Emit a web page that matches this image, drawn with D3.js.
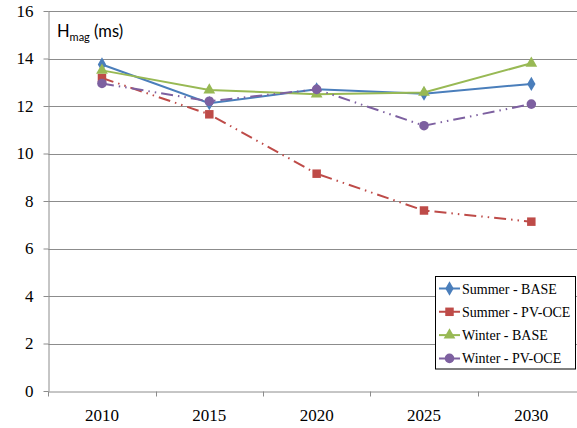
<!DOCTYPE html>
<html><head><meta charset="utf-8">
<script src="https://cdn.jsdelivr.net/npm/d3@7"></script>
<style>body{margin:0;background:#fff;overflow:hidden}</style>
</head><body>
<svg id="c" width="577" height="428"></svg>
<script>
const years = ["2010","2015","2020","2025","2030"];
const yTicks = [0,2,4,6,8,10,12,14,16];
const summerBase = [13.75,12.12,12.7,12.52,12.93];
const summerPV = [13.18,11.65,9.15,7.6,7.13];
const winterBase = [13.5,12.67,12.5,12.57,13.8];
const winterPV = [12.95,12.2,12.7,11.17,12.08];
const seriesNames = ["Summer - BASE","Summer - PV-OCE","Winter - BASE","Winter - PV-OCE"];

const series = [
  {name:seriesNames[0], values:summerBase, color:"#4a7ebb", dash:null, marker:d3.symbolDiamond, size:60},
  {name:seriesNames[1], values:summerPV, color:"#be4b48", dash:"12,5,1.5,5,1.5,5", marker:d3.symbolSquare, size:72},
  {name:seriesNames[2], values:winterBase, color:"#98b954", dash:null, marker:d3.symbolTriangle, size:60},
  {name:seriesNames[3], values:winterPV, color:"#7d60a0", dash:"12,5,1.5,5,1.5,5", marker:d3.symbolCircle, size:72}
];

const svg = d3.select("#c");
const L = 48.3, R = 585, T = 11, B = 391;
const x = d3.scaleBand().domain(years).range([L,R]);
const y = d3.scaleLinear().domain([0,16]).range([B,T]);
const SERIF = "Liberation Serif";

// gridlines
svg.append("g").selectAll("line").data(yTicks.filter(d=>d>0)).join("line")
  .attr("x1",L).attr("x2",R)
  .attr("y1",d=>Math.round(y(d))+0.5).attr("y2",d=>Math.round(y(d))+0.5)
  .attr("stroke","#8c8c8c").attr("stroke-width",1);

// y axis
const ya = svg.append("g").attr("transform",`translate(${Math.round(L)+0.5},0)`)
  .call(d3.axisLeft(y).tickValues(yTicks).tickSize(5).tickPadding(10).tickSizeOuter(0));
ya.attr("font-family",SERIF).attr("font-size",17);
ya.select(".domain").attr("stroke","#8c8c8c");
ya.selectAll(".tick line").attr("stroke","#8c8c8c");
ya.selectAll(".tick text").attr("font-family",SERIF).attr("font-size",17).attr("fill","#000");

// x axis
const xa = svg.append("g").attr("transform",`translate(0,${Math.round(B)+0.5})`)
  .call(d3.axisBottom(x).tickSize(0).tickPadding(17));
xa.attr("font-family",SERIF).attr("font-size",17);
xa.select(".domain").attr("stroke","#8c8c8c");
xa.selectAll(".tick text").attr("font-family",SERIF).attr("font-size",17).attr("fill","#000");
xa.selectAll(".edge").data(years.map(d=>x(d)).concat([x(years[4])+x.bandwidth()])).join("line")
  .attr("x1",d=>Math.round(d)+0.5).attr("x2",d=>Math.round(d)+0.5).attr("y1",0).attr("y2",5)
  .attr("stroke","#8c8c8c");

// y label
const lab = svg.append("text").attr("x",57).attr("y",37)
  .attr("font-family","Lato").attr("font-size",16.5).attr("fill","#000");
lab.append("tspan").text("H");
lab.append("tspan").attr("font-size",11).attr("dy",4).text("mag");
lab.append("tspan").attr("dy",-4).text(" (ms)");

const cx = d => x(d) + x.bandwidth()/2;
const line = d3.line().x((v,i)=>cx(years[i])).y(v=>y(v));

series.forEach(s=>{
  svg.append("path").attr("d",line(s.values)).attr("fill","none")
    .attr("stroke",s.color).attr("stroke-width",2).attr("stroke-dasharray",s.dash);
  svg.append("g").selectAll("path").data(s.values).join("path")
    .attr("transform",(v,i)=>`translate(${cx(years[i])},${y(v)})`)
    .attr("d",d3.symbol().type(s.marker).size(s.size)).attr("fill",s.color);
});

// legend
const lg = svg.append("g");
lg.append("rect").attr("x",435.5).attr("y",276.5).attr("width",140).attr("height",92.5)
  .attr("fill","#fff").attr("stroke","#000").attr("stroke-width",1);
series.forEach((s,i)=>{
  const cy = 288.5 + i*23.3;
  lg.append("line").attr("x1",439).attr("x2",460).attr("y1",cy).attr("y2",cy)
    .attr("stroke",s.color).attr("stroke-width",2).attr("stroke-dasharray",s.dash?"8,2,1.5,2":null);
  lg.append("path").attr("transform",`translate(449.5,${cy})`)
    .attr("d",d3.symbol().type(s.marker).size(s.size)).attr("fill",s.color);
  lg.append("text").attr("x",462).attr("y",cy+5).attr("font-family",SERIF).attr("font-size",14)
    .attr("fill","#000").text(s.name);
});
</script>
</body></html>
